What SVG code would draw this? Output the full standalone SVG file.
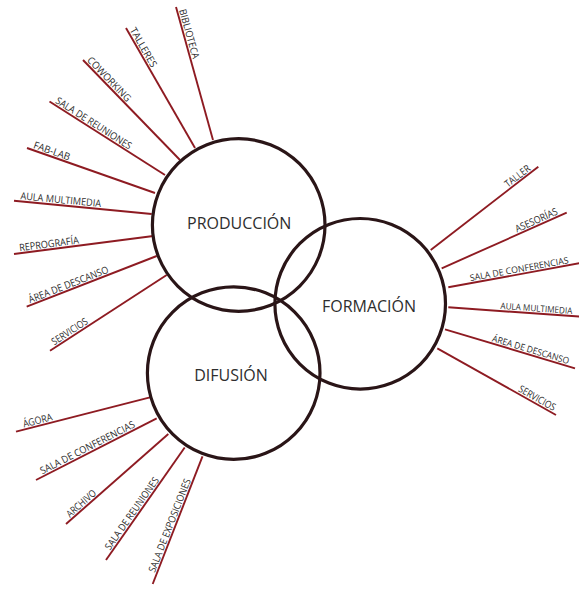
<svg xmlns="http://www.w3.org/2000/svg" width="579" height="590" viewBox="0 0 579 590">
<style>
.spoke{stroke:#8e1b22;stroke-width:1.9;fill:none;stroke-linecap:butt}
.ring{fill:none;stroke:#2a1517;stroke-width:3.2}
.main{font-family:"Open Sans","Noto Sans",sans-serif;font-size:16px;fill:#2e2e2e;text-anchor:middle}
.lbl{font-family:"Open Sans","Noto Sans",sans-serif;font-size:10px;fill:#2e2e2e}
.lbs{font-family:"Open Sans","Noto Sans",sans-serif;font-size:9px;fill:#2e2e2e}
</style>
<rect width="579" height="590" fill="#fff"/>
<g id="connectors">
<line class="spoke" x1="176" y1="7" x2="213" y2="140"/>
<line class="spoke" x1="126" y1="28" x2="195" y2="148"/>
<line class="spoke" x1="83" y1="60" x2="180" y2="160"/>
<line class="spoke" x1="49.5" y1="101.5" x2="165" y2="175"/>
<line class="spoke" x1="27" y1="148" x2="155" y2="193"/>
<line class="spoke" x1="14" y1="200.7" x2="151.7" y2="214"/>
<line class="spoke" x1="14" y1="254" x2="153.3" y2="236"/>
<line class="spoke" x1="26.7" y1="306.7" x2="156.7" y2="256"/>
<line class="spoke" x1="50" y1="350.7" x2="166.7" y2="275"/>
<line class="spoke" x1="430.7" y1="250" x2="538.3" y2="166.7"/>
<line class="spoke" x1="441.7" y1="268.3" x2="566.7" y2="212.7"/>
<line class="spoke" x1="448.3" y1="287.3" x2="583" y2="262.6"/>
<line class="spoke" x1="448.3" y1="307.3" x2="585" y2="317"/>
<line class="spoke" x1="445" y1="329.3" x2="575" y2="368.3"/>
<line class="spoke" x1="437.3" y1="348.3" x2="556" y2="415"/>
<line class="spoke" x1="16" y1="431.7" x2="150" y2="397.3"/>
<line class="spoke" x1="36" y1="480" x2="156.7" y2="418.3"/>
<line class="spoke" x1="66" y1="524" x2="168.3" y2="434"/>
<line class="spoke" x1="106" y1="560" x2="184.7" y2="447.5"/>
<line class="spoke" x1="152.7" y1="584" x2="202.5" y2="456.3"/>
</g>
<g id="produccion">
<circle class="ring" cx="238.7" cy="225" r="86.3"/>
<text class="main" x="239.2" y="229">PRODUCCIÓN</text>
</g>
<g id="formacion">
<circle class="ring" cx="360.2" cy="303.8" r="85.3"/>
<text class="main" x="369" y="311.7">FORMACIÓN</text>
</g>
<g id="difusion">
<circle class="ring" cx="233.7" cy="373.1" r="86.3"/>
<text class="main" x="231" y="380.7">DIFUSIÓN</text>
</g>
<g id="p-biblioteca"><text class="lbl" transform="translate(176,7) rotate(74.4)" x="4" y="-2" textLength="51" lengthAdjust="spacingAndGlyphs">BIBLIOTECA</text></g>
<g id="p-talleres"><text class="lbl" transform="translate(126,28) rotate(60.1)" x="3.5" y="-2" textLength="44" lengthAdjust="spacingAndGlyphs">TALLERES</text></g>
<g id="p-coworking"><text class="lbl" transform="translate(83,60) rotate(45.9)" x="3" y="-2" textLength="58" lengthAdjust="spacingAndGlyphs">COWORKING</text></g>
<g id="p-sala-reuniones"><text class="lbl" transform="translate(49.5,101.5) rotate(32.5)" x="5" y="-2" textLength="88" lengthAdjust="spacingAndGlyphs">SALA DE REUNIONES</text></g>
<g id="p-fablab"><text class="lbl" transform="translate(27,148) rotate(19.4)" x="5.5" y="-2" textLength="38" lengthAdjust="spacingAndGlyphs">FAB-LAB</text></g>
<g id="p-aula"><text class="lbl" transform="translate(14,200.7) rotate(5.5)" x="6" y="-2" textLength="81" lengthAdjust="spacingAndGlyphs">AULA MULTIMEDIA</text></g>
<g id="p-reprografia"><text class="lbl" transform="translate(14,254) rotate(-7.4)" x="6" y="-2" textLength="60" lengthAdjust="spacingAndGlyphs">REPROGRAFÍA</text></g>
<g id="p-descanso"><text class="lbl" transform="translate(26.7,306.7) rotate(-21.3)" x="4.4" y="-2" textLength="85" lengthAdjust="spacingAndGlyphs">ÁREA DE DESCANSO</text></g>
<g id="p-servicios"><text class="lbl" transform="translate(50,350.7) rotate(-33)" x="6.5" y="-2" textLength="41" lengthAdjust="spacingAndGlyphs">SERVICIOS</text></g>
<g id="f-taller"><text class="lbl" transform="translate(430.7,250) rotate(-37.7)" x="99.4" y="-2" textLength="29" lengthAdjust="spacingAndGlyphs">TALLER</text></g>
<g id="f-asesorias"><text class="lbl" transform="translate(441.7,268.3) rotate(-24)" x="83.3" y="-2" textLength="45.5" lengthAdjust="spacingAndGlyphs">ASESORÍAS</text></g>
<g id="f-sala-conf"><text class="lbs" transform="translate(448.3,287.3) rotate(-10.4)" x="23" y="-2" textLength="100" lengthAdjust="spacingAndGlyphs">SALA DE CONFERENCIAS</text></g>
<g id="f-aula"><text class="lbs" transform="translate(448.3,307.3) rotate(4.06)" x="52" y="-2" textLength="72" lengthAdjust="spacingAndGlyphs">AULA MULTIMEDIA</text></g>
<g id="f-descanso"><text class="lbs" transform="translate(445,329.3) rotate(16.7)" x="48" y="-2" textLength="80" lengthAdjust="spacingAndGlyphs">ÁREA DE DESCANSO</text></g>
<g id="f-servicios"><text class="lbl" transform="translate(437.3,348.3) rotate(29.3)" x="91" y="-2" textLength="41" lengthAdjust="spacingAndGlyphs">SERVICIOS</text></g>
<g id="d-agora"><text class="lbl" transform="translate(16,431.7) rotate(-14.4)" x="8.7" y="-2" textLength="30" lengthAdjust="spacingAndGlyphs">ÁGORA</text></g>
<g id="d-sala-conf"><text class="lbl" transform="translate(36,480) rotate(-27.1)" x="8" y="-2" textLength="105" lengthAdjust="spacingAndGlyphs">SALA DE CONFERENCIAS</text></g>
<g id="d-archivo"><text class="lbl" transform="translate(66,524) rotate(-41.3)" x="7" y="-2" textLength="36" lengthAdjust="spacingAndGlyphs">ARCHIVO</text></g>
<g id="d-sala-reuniones"><text class="lbl" transform="translate(106,560) rotate(-55)" x="10" y="-2" textLength="86" lengthAdjust="spacingAndGlyphs">SALA DE REUNIONES</text></g>
<g id="d-sala-expo"><text class="lbl" transform="translate(152.7,584) rotate(-68.7)" x="11" y="-2" textLength="99.5" lengthAdjust="spacingAndGlyphs">SALA DE EXPOSICIONES</text></g>
</svg>
